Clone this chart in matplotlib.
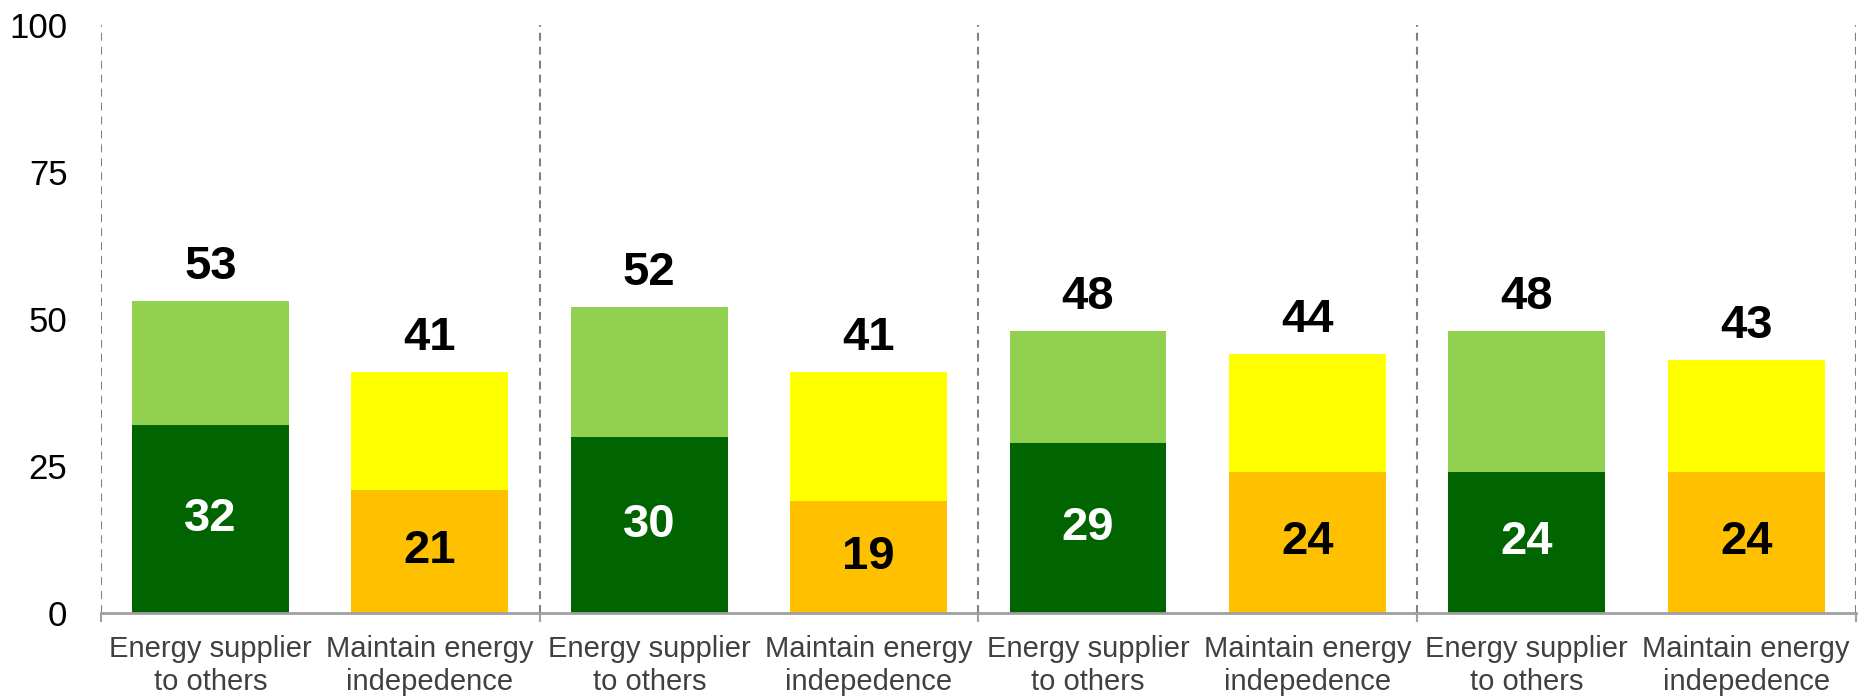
import numpy as np
import matplotlib.pyplot as plt

plt.rcParams['font.family'] = ['Liberation Sans', 'DejaVu Sans']

labels = ['Energy supplier\nto others', 'Maintain energy\nindepedence'] * 4
# bottom part of each bar and the total height
bottom_vals = [32, 21, 30, 19, 29, 24, 24, 24]
total_vals = [53, 41, 52, 41, 48, 44, 48, 43]
bottom_colors = ['#006400', '#FFC000'] * 4
top_colors = ['#92D050', '#FFFF00'] * 4
inner_text = ['white', 'black'] * 4

x = np.arange(len(labels))
top_vals = np.array(total_vals) - np.array(bottom_vals)

fig = plt.figure(figsize=(18.66, 7), dpi=100)
ax = fig.add_axes([0.054, 0.1243, 0.9406, 0.8397])

ax.bar(x, bottom_vals, width=0.715, color=bottom_colors, zorder=2)
ax.bar(x, top_vals, width=0.715, bottom=bottom_vals, color=top_colors, zorder=2)

for i in range(len(x)):
    ax.text(x[i], bottom_vals[i] / 2, str(bottom_vals[i]), ha='center', va='center',
            fontsize=34, fontweight='bold', color=inner_text[i], zorder=3)
    ax.annotate(str(total_vals[i]), (x[i], total_vals[i]), xytext=(0, 16),
                textcoords='offset points', ha='center', va='baseline',
                fontsize=34, fontweight='bold', color='black')

seps = [-0.5, 1.5, 3.5, 5.5, 7.5]
for s in seps:
    ax.axvline(s, color='#808080', lw=1.5, linestyle=(0, (3.8, 2.9)), zorder=1)

ax.set_xlim(-0.5, 7.5)
ax.set_ylim(0, 100)
ax.set_yticks([0, 25, 50, 75, 100])
ax.set_xticks(x)
ax.set_xticklabels(labels, color='#404040', fontsize=21, linespacing=1.2)
ax.set_xticks(seps, minor=True)
ax.tick_params(axis='x', which='major', length=0, pad=16)
ax.tick_params(axis='x', which='minor', length=6.5, width=1.5, color='#a0a0a0', direction='out')
ax.tick_params(axis='y', length=0, pad=24, labelsize=25)

for sp in ['left', 'right', 'top']:
    ax.spines[sp].set_visible(False)
ax.spines['bottom'].set_color('#a0a0a0')
ax.spines['bottom'].set_linewidth(2)
ax.spines['bottom'].set_zorder(4)

fig.savefig('out.png', dpi=100)
